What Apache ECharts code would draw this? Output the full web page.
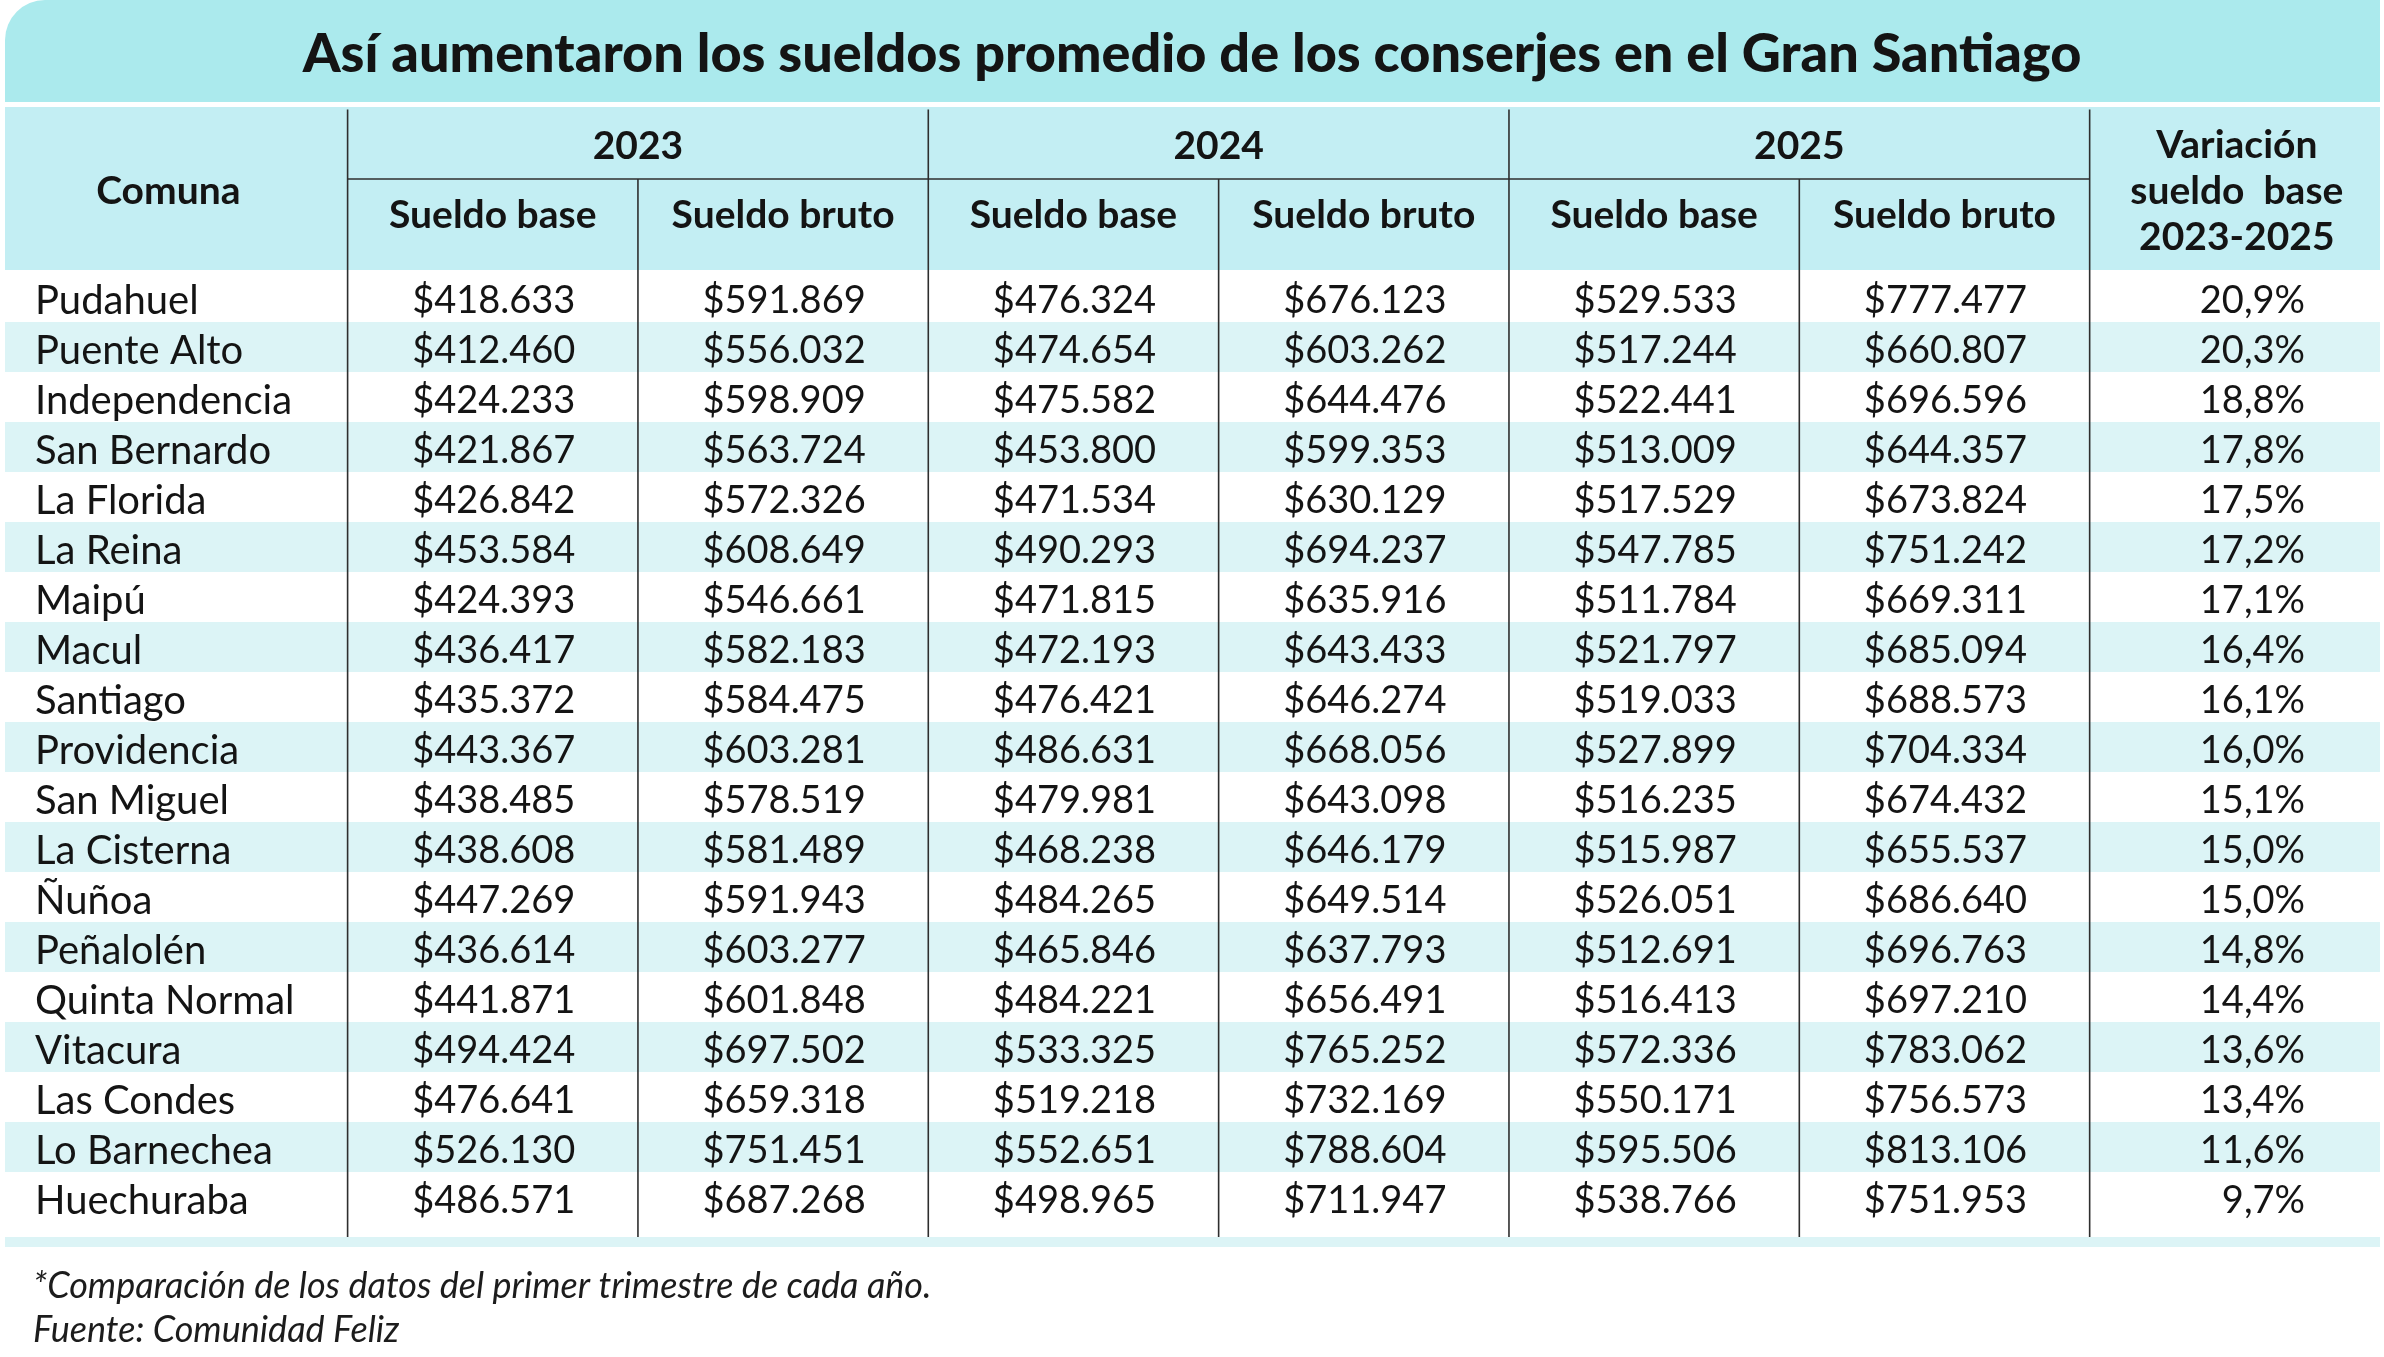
<!DOCTYPE html>
<html>
<head>
<meta charset="utf-8">
<title>Sueldos de conserjes</title>
<script src="https://cdn.jsdelivr.net/npm/echarts@6/dist/echarts.min.js"></script>
<style>
  html, body { margin: 0; padding: 0; background: #fff; }
  #chart { width: 2384px; height: 1357px; }
</style>
</head>
<body>
<div id="chart"></div>
<script>
const comunas = ['Pudahuel', 'Puente Alto', 'Independencia', 'San Bernardo', 'La Florida', 'La Reina',
  'Maipú', 'Macul', 'Santiago', 'Providencia', 'San Miguel', 'La Cisterna', 'Ñuñoa', 'Peñalolén',
  'Quinta Normal', 'Vitacura', 'Las Condes', 'Lo Barnechea', 'Huechuraba']
const base2023 = [418633, 412460, 424233, 421867, 426842, 453584, 424393, 436417, 435372, 443367,
  438485, 438608, 447269, 436614, 441871, 494424, 476641, 526130, 486571]
const bruto2023 = [591869, 556032, 598909, 563724, 572326, 608649, 546661, 582183, 584475, 603281,
  578519, 581489, 591943, 603277, 601848, 697502, 659318, 751451, 687268]
const base2024 = [476324, 474654, 475582, 453800, 471534, 490293, 471815, 472193, 476421, 486631,
  479981, 468238, 484265, 465846, 484221, 533325, 519218, 552651, 498965]
const bruto2024 = [676123, 603262, 644476, 599353, 630129, 694237, 635916, 643433, 646274, 668056,
  643098, 646179, 649514, 637793, 656491, 765252, 732169, 788604, 711947]
const base2025 = [529533, 517244, 522441, 513009, 517529, 547785, 511784, 521797, 519033, 527899,
  516235, 515987, 526051, 512691, 516413, 572336, 550171, 595506, 538766]
const bruto2025 = [777477, 660807, 696596, 644357, 673824, 751242, 669311, 685094, 688573, 704334,
  674432, 655537, 686640, 696763, 697210, 783062, 756573, 813106, 751953]
const variacion = [20.9, 20.3, 18.8, 17.8, 17.5, 17.2, 17.1, 16.4, 16.1, 16.0,
  15.1, 15.0, 15.0, 14.8, 14.4, 13.6, 13.4, 11.6, 9.7]

const years = ['2023', '2024', '2025']
const subHeaders = ['Sueldo base', 'Sueldo bruto']
const firstHeader = 'Comuna'
const lastHeader = ['Variación', 'sueldo  base', '2023-2025']
const titleText = 'Así aumentaron los sueldos promedio de los conserjes en el Gran Santiago'
const noteText = '*Comparación de los datos del primer trimestre de cada año.\nFuente: Comunidad Feliz'

// layout (axis units): columns on x, rows on y
const colWeights = [1.18, 1, 1, 1, 1, 1, 1, 1]
const colEdges = [0]
colWeights.forEach(w => colEdges.push(colEdges[colEdges.length - 1] + w))
const TOTAL_W = colEdges[colEdges.length - 1]
const YEAR_END = 1.44
const HEAD_END = 3.26
const BODY_START = 3.3
const LINES_END = 22.6
const TOTAL_H = 22.8

const FONT = 'Lato'
const INK = '#141414'
const TITLE_BG = '#abeaed'
const HEAD_BG = '#c3eef3'
const STRIPE = '#dcf4f6'
const RULE = '#2e2e2e'

const money = v => '$' + String(v).replace(/\B(?=(\d{3})+(?!\d))/g, '.')
const pct = v => v.toFixed(1).replace('.', ',') + '%'

const rows = comunas.map((c, i) => [i, base2023[i], bruto2023[i], base2024[i], bruto2024[i],
  base2025[i], bruto2025[i], variacion[i]])

const txt = (text, x, y, align, size, weight) => ({
  type: 'text',
  style: {
    text, x, y, align, verticalAlign: 'middle',
    fontFamily: FONT, fontSize: size, fontWeight: weight || 'normal', fill: INK
  }
})

const xAt = (api, v) => api.coord([v, 0])[0]
const yAt = (api, v) => api.coord([0, v])[1]

function renderHeader (params, api) {
  const xs = colEdges.map(e => xAt(api, e))
  const top = yAt(api, 0), yearEnd = yAt(api, YEAR_END), end = yAt(api, HEAD_END)
  const children = [{
    type: 'rect',
    shape: { x: xs[0], y: top, width: xs[8] - xs[0], height: end - top },
    style: { fill: HEAD_BG }
  }]
  children.push(txt(firstHeader, (xs[0] + xs[1]) / 2 - 8, (top + end) / 2 + 3, 'center', 39, 'bold'))
  years.forEach((yr, k) => {
    const a = 1 + k * 2
    children.push(txt(yr, (xs[a] + xs[a + 2]) / 2, (top + yearEnd) / 2 + 3, 'center', 39, 'bold'))
    subHeaders.forEach((s, m) => {
      const c = a + m
      children.push(txt(s, (xs[c] + xs[c + 1]) / 2, (yearEnd + end) / 2 - 9, 'center', 39, 'bold'))
    })
  })
  const mid = (top + end) / 2 + 3
  lastHeader.forEach((s, m) => {
    children.push(txt(s, (xs[7] + xs[8]) / 2 + 2, mid + (m - 1) * 46, 'center', 39, 'bold'))
  })
  return { type: 'group', children }
}

function renderRow (params, api) {
  const i = api.value(0)
  const xs = colEdges.map(e => xAt(api, e))
  const top = yAt(api, BODY_START + i), bottom = yAt(api, BODY_START + i + 1)
  const mid = (top + bottom) / 2 + 4
  const children = []
  if (i % 2 === 1) {
    children.push({
      type: 'rect',
      shape: { x: xs[0], y: top, width: xs[8] - xs[0], height: bottom - top },
      style: { fill: STRIPE }
    })
  }
  children.push(txt(comunas[i], xs[0] + 30, mid, 'left', 40))
  for (let j = 1; j <= 6; j++) {
    children.push(txt(money(api.value(j)), (xs[j] + xs[j + 1]) / 2 + 1, mid, 'center', 38))
  }
  children.push(txt(pct(api.value(7)), xs[8] - 75, mid, 'right', 38))
  return { type: 'group', children }
}

function renderRules (params, api) {
  const xs = colEdges.map(e => xAt(api, e))
  const top = yAt(api, 0.05), yearEnd = yAt(api, YEAR_END), end = yAt(api, LINES_END)
  const line = (x1, y1, x2, y2) => ({
    type: 'line', shape: { x1, y1, x2, y2 }, style: { stroke: RULE, lineWidth: 1.6 }
  })
  const children = [{
    type: 'rect',
    shape: { x: xs[0], y: end, width: xs[8] - xs[0], height: yAt(api, TOTAL_H) - end },
    style: { fill: STRIPE }
  }]
  ;[1, 3, 5, 7].forEach(c => children.push(line(xs[c], top, xs[c], end)))
  ;[2, 4, 6].forEach(c => children.push(line(xs[c], yearEnd, xs[c], end)))
  children.push(line(xs[1], yearEnd, xs[7], yearEnd))
  return { type: 'group', children }
}

const chart = echarts.init(document.getElementById('chart'))
chart.setOption({
  backgroundColor: '#fff',
  animation: false,
  title: [{
    text: titleText,
    left: 'center',
    top: 24,
    padding: 0,
    textStyle: { fontFamily: FONT, fontWeight: 900, fontSize: 54, lineHeight: 62, color: INK }
  }, {
    text: noteText,
    left: 33,
    top: 1264,
    padding: 0,
    textStyle: { fontFamily: FONT, fontStyle: 'italic', fontWeight: 'normal', fontSize: 36, lineHeight: 44, color: '#1c1c1c' }
  }],
  graphic: [{
    type: 'rect',
    z: -10,
    shape: { x: 5, y: 0, width: 2375, height: 102, r: [40, 0, 0, 0] },
    style: { fill: TITLE_BG }
  }],
  grid: { left: 5, right: 4, top: 107, height: 1140 },
  xAxis: { type: 'value', min: 0, max: TOTAL_W, show: false },
  yAxis: { type: 'value', min: 0, max: TOTAL_H, inverse: true, show: false },
  series: [
    { type: 'custom', name: 'encabezado', data: [[0]], encode: { x: 0, y: 0 }, renderItem: renderHeader, silent: true },
    { type: 'custom', name: 'comunas', data: rows, encode: { x: 0, y: 0 }, renderItem: renderRow, silent: true },
    { type: 'custom', name: 'lineas', data: [[0]], encode: { x: 0, y: 0 }, renderItem: renderRules, silent: true }
  ]
})
</script>
</body>
</html>
